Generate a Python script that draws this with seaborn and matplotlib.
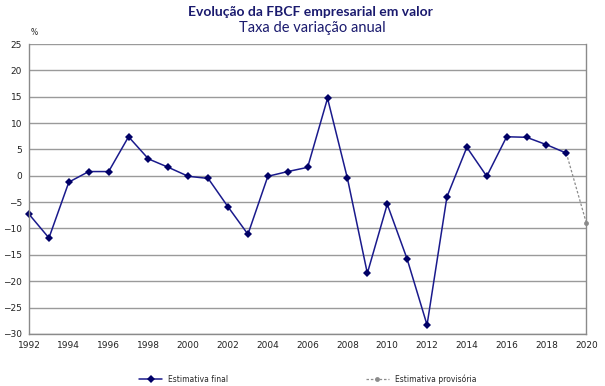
import numpy as np
import pandas as pd
import matplotlib
matplotlib.use("Agg")
import matplotlib.pyplot as plt
import seaborn as sns

# dados
anos = list(range(1992, 2020))
final = [-7.3, -11.8, -1.2, 0.8, 0.8, 7.4, 3.2, 1.6, -0.1, -0.5,
         -5.9, -11.1, -0.1, 0.8, 1.6, 14.7, -0.5, -18.5, -5.4, -15.8,
         -28.3, -4.0, 5.4, -0.1, 7.4, 7.3, 5.9, 4.3]
anos_prov = [2019, 2020]
provisoria = [4.3, -8.9]

df_final = pd.DataFrame({"ano": anos, "valor": final})
df_prov = pd.DataFrame({"ano": anos_prov, "valor": provisoria})

sns.set_style("white")
plt.rcParams['font.family'] = ['DejaVu Sans']

fig = plt.figure(figsize=(6.05, 3.86), dpi=100)
ax = fig.add_axes([0.048, 0.135, 0.921, 0.751])

sns.lineplot(data=df_prov, x="ano", y="valor", ax=ax, color="#8c8c8c",
             linestyle=(0, (2, 1.5)), linewidth=0.9, marker="o", markersize=3.5,
             markeredgewidth=0, label="Estimativa provisória", clip_on=False)
sns.lineplot(data=df_final, x="ano", y="valor", ax=ax, color="#1a1a8c",
             linewidth=1.1, marker="D", markersize=3.8, markeredgewidth=0,
             markerfacecolor="#000066", label="Estimativa final", clip_on=False)

ax.set_xlim(1992, 2020)
ax.set_ylim(-30, 25)
ax.set_yticks(np.arange(-30, 26, 5))
ax.set_xticks(range(1992, 2021, 2))
ax.set_xticks(range(1992, 2021), minor=True)
ax.yaxis.grid(True, color="#9a9a9a", linewidth=1.0)
ax.set_axisbelow(True)
for s in ax.spines.values():
    s.set_color("#8a8a8a")
    s.set_linewidth(1.0)
ax.spines["top"].set_visible(False)
ax.tick_params(axis="both", labelsize=6.5, colors="#8a8a8a", labelcolor="#222222",
               direction="out", length=3, width=0.8, pad=2)
ax.tick_params(axis="x", which="minor", direction="out", length=3, width=0.8, colors="#8a8a8a")
ax.set_xlabel("")
ax.set_ylabel("")

fig.text(0.513, 0.969, "Evolução da FBCF empresarial em valor", ha="center", va="center",
         fontsize=10, fontweight="bold", color="#1a1a6e",
         family=["Lato", "DejaVu Sans"])
fig.text(0.516, 0.928, "Taxa de variação anual", ha="center", va="center",
         fontsize=10.5, color="#1a1a6e",
         family=["Lato", "DejaVu Sans"])
fig.text(0.05, 0.915, "%", ha="left", va="center", fontsize=5.5, color="#222222")

handles, labels = ax.get_legend_handles_labels()
ax.legend(handles[::-1], labels[::-1], loc="center", bbox_to_anchor=(0.5, -0.155),
          ncol=2, frameon=False, fontsize=5.5, columnspacing=18, handlelength=3)

fig.savefig("out.png", dpi=100, facecolor="white")
